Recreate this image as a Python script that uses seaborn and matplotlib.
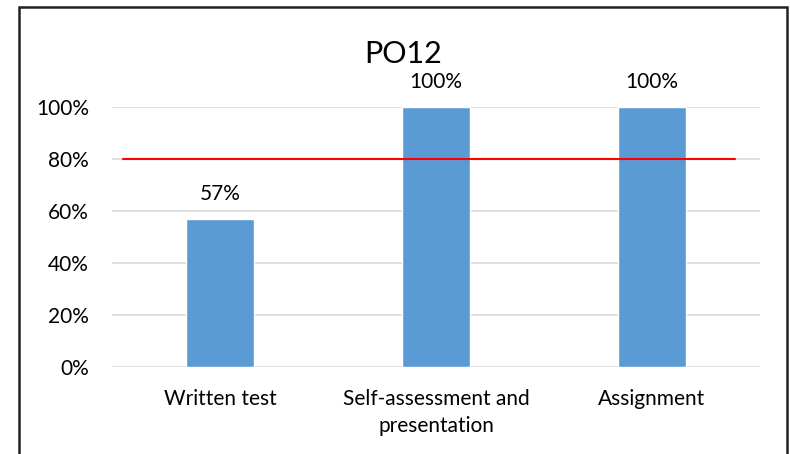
import matplotlib
matplotlib.use("Agg")
import matplotlib.pyplot as plt
from matplotlib.patches import Rectangle
from matplotlib.ticker import PercentFormatter
import seaborn as sns
import pandas as pd

categories = ["Written test", "Self-assessment and\npresentation", "Assignment"]
attainment = [57, 100, 100]
target = 80
y_ticks = [0, 20, 40, 60, 80, 100]

sns.set_theme(style="white")
plt.rcParams["font.family"] = ["Lato", "DejaVu Sans"]

W, H = 790, 454
fig = plt.figure(figsize=(W / 100, H / 100), dpi=100)
ax = fig.add_axes([112 / W, 1 - 367 / H, (760 - 112) / W, (367 - 107) / H])

df = pd.DataFrame({"category": categories, "value": attainment})
sns.barplot(data=df, x="category", y="value", color="#5B9BD5", width=0.315,
            saturation=1, ax=ax, zorder=3)

# value labels above each bar
for i, v in enumerate(attainment):
    ax.text(i, v + 9.6, f"{v}%", ha="center", va="center", fontsize=15,
            color="#000000", clip_on=False)

# target line
ax.plot([-0.449, 2.384], [target, target], color="#FF0000", lw=1.5, zorder=4)

ax.set_xlim(-0.5, 2.5)
ax.set_ylim(0, 100)
ax.set_yticks(y_ticks)
ax.yaxis.set_major_formatter(PercentFormatter(decimals=0))
ax.grid(axis="y", color="#D9D9D9", lw=1.2, zorder=0)
for s in ax.spines.values():
    s.set_visible(False)
ax.tick_params(axis="both", length=0, labelsize=15, colors="#000000")
ax.tick_params(axis="y", pad=16.5)
ax.tick_params(axis="x", pad=16)
for lbl in ax.get_xticklabels():
    lbl.set_linespacing(1.45)
ax.set_xlabel("")
ax.set_ylabel("")

fig.text(403 / W, 1 - 54 / H, "PO12", ha="center", va="center", fontsize=22, color="#000000")

fig.add_artist(Rectangle((19 / W, -0.05), (787 - 19) / W, 1 - 7 / H + 0.05,
                         transform=fig.transFigure, fill=False, edgecolor="#222222", lw=1.8))

fig.savefig("out.png", dpi=100, facecolor="white")
